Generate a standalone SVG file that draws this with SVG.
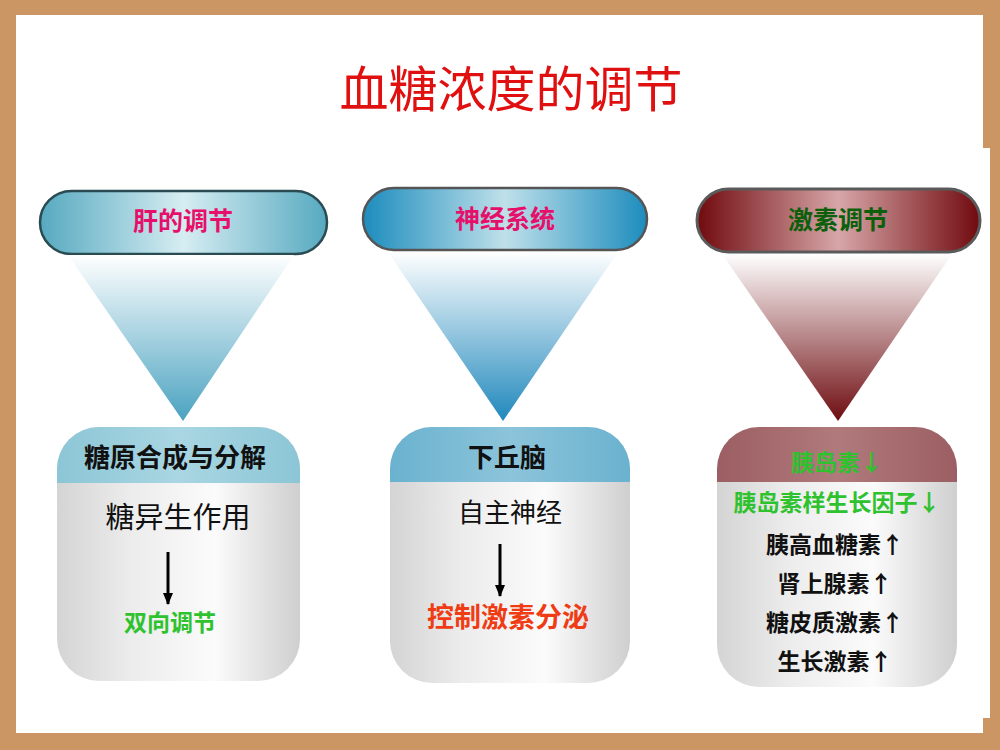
<svg xmlns="http://www.w3.org/2000/svg" width="1000" height="750" viewBox="0 0 1000 750">
<defs>
<style>
.cjk{font-family:"Noto Sans CJK SC","Noto Sans CJK TC",sans-serif;text-anchor:middle}
.pill{font-size:25px;font-weight:bold}
.hdr{font-size:26px;font-weight:bold;fill:#111}
.item{font-size:23px;font-weight:bold;fill:#111}
.green{fill:#2fc22f}
</style>
<linearGradient id="p1" x1="0" y1="0" x2="1" y2="0">
<stop offset="0" stop-color="#56a9c0"/><stop offset="0.5" stop-color="#d6edf2"/><stop offset="1" stop-color="#56a9c0"/>
</linearGradient>
<linearGradient id="p2" x1="0" y1="0" x2="1" y2="0">
<stop offset="0" stop-color="#1c8cbd"/><stop offset="0.5" stop-color="#bfe0ea"/><stop offset="1" stop-color="#1c8cbd"/>
</linearGradient>
<linearGradient id="p3" x1="0" y1="0" x2="1" y2="0">
<stop offset="0" stop-color="#700a0e"/><stop offset="0.5" stop-color="#d7a6a8"/><stop offset="1" stop-color="#700a0e"/>
</linearGradient>
<linearGradient id="tb" x1="0" y1="0" x2="0" y2="1">
<stop offset="0" stop-color="#ffffff"/><stop offset="1" stop-color="#4aa2c0"/>
</linearGradient>
<linearGradient id="tb2" x1="0" y1="0" x2="0" y2="1">
<stop offset="0" stop-color="#ffffff"/><stop offset="1" stop-color="#2088bc"/>
</linearGradient>
<linearGradient id="tr" x1="0" y1="0" x2="0" y2="1">
<stop offset="0" stop-color="#ffffff"/><stop offset="1" stop-color="#6e0c10"/>
</linearGradient>
<linearGradient id="body" x1="0" y1="0" x2="1" y2="0">
<stop offset="0" stop-color="#d4d4d4"/><stop offset="0.3" stop-color="#ececec"/><stop offset="0.65" stop-color="#fbfbfb"/><stop offset="1" stop-color="#cfcfcf"/>
</linearGradient>
<linearGradient id="h1" x1="0" y1="0" x2="1" y2="0">
<stop offset="0" stop-color="#8cc6d6"/><stop offset="0.5" stop-color="#a9d6e2"/><stop offset="1" stop-color="#8cc6d6"/>
</linearGradient>
<linearGradient id="h2" x1="0" y1="0" x2="1" y2="0">
<stop offset="0" stop-color="#6ab2cf"/><stop offset="0.5" stop-color="#8cc4da"/><stop offset="1" stop-color="#6ab2cf"/>
</linearGradient>
<linearGradient id="h3" x1="0" y1="0" x2="1" y2="0">
<stop offset="0" stop-color="#9c5e62"/><stop offset="0.5" stop-color="#b07a7c"/><stop offset="1" stop-color="#9c5e62"/>
</linearGradient>
<clipPath id="c1"><rect x="57" y="427" width="243" height="254" rx="42"/></clipPath>
<clipPath id="c2"><rect x="390" y="427" width="240" height="256" rx="42"/></clipPath>
<clipPath id="c3"><rect x="717" y="427" width="240" height="260" rx="42"/></clipPath>
<marker id="ah" viewBox="0 0 12 10" refX="11" refY="5" markerWidth="12" markerHeight="10" markerUnits="userSpaceOnUse" orient="auto">
<path d="M0,0 L12,5 L0,10 Z" fill="#000"/>
</marker>
</defs>

<rect x="0" y="0" width="1000" height="750" fill="#cc9664"/>
<rect x="16" y="15" width="967" height="718" fill="#ffffff"/>
<rect x="983" y="148" width="7" height="570" fill="#ffffff"/>

<text id="title" class="cjk" x="511" y="107" font-size="49" fill="#e01010">血糖浓度的调节</text>

<g id="pill-liver">
<rect x="40" y="191" width="287" height="63" rx="31.5" fill="url(#p1)" stroke="#2b4b52" stroke-width="2.5"/>
<text class="cjk pill" x="183" y="230" fill="#e6106a">肝的调节</text>
</g>
<g id="pill-nerve">
<rect x="363" y="188" width="284" height="62" rx="31" fill="url(#p2)" stroke="#555" stroke-width="2.5"/>
<text class="cjk pill" x="505" y="228" fill="#e6106a">神经系统</text>
</g>
<g id="pill-hormone">
<rect x="697" y="189" width="283" height="63" rx="31.5" fill="url(#p3)" stroke="#5a5a5a" stroke-width="3"/>
<text class="cjk pill" x="838" y="229" fill="#0c600c">激素调节</text>
</g>

<g id="box-liver">
<g clip-path="url(#c1)">
<rect x="57" y="427" width="243" height="254" fill="url(#body)"/>
<rect x="57" y="427" width="243" height="56" fill="url(#h1)"/>
</g>
<text class="cjk hdr" x="175" y="467">糖原合成与分解</text>
<text class="cjk" x="178" y="528" font-size="29" fill="#111">糖异生作用</text>
<text class="cjk green" x="170" y="631" font-size="23" font-weight="bold">双向调节</text>
</g>

<g id="box-nerve">
<g clip-path="url(#c2)">
<rect x="390" y="427" width="240" height="256" fill="url(#body)"/>
<rect x="390" y="427" width="240" height="55" fill="url(#h2)"/>
</g>
<text class="cjk hdr" x="507" y="467">下丘脑</text>
<text class="cjk" x="510" y="522" font-size="26" fill="#111">自主神经</text>
<text class="cjk" x="508" y="627" font-size="27" font-weight="bold" fill="#f03c14">控制激素分泌</text>
</g>

<g id="box-hormone">
<g clip-path="url(#c3)">
<rect x="717" y="427" width="240" height="260" fill="url(#body)"/>
<rect x="717" y="427" width="240" height="55" fill="url(#h3)"/>
</g>
<text class="cjk item green" x="837" y="471">胰岛素↓</text>
<text class="cjk item green" x="837" y="511">胰岛素样生长因子↓</text>
<text class="cjk item" x="835" y="553">胰高血糖素↑</text>
<text class="cjk item" x="835" y="592">肾上腺素↑</text>
<text class="cjk item" x="835" y="631">糖皮质激素↑</text>
<text class="cjk item" x="835" y="670">生长激素↑</text>
</g>

<g id="connectors">
<polygon points="68,255 294,255 183,421" fill="url(#tb)"/>
<polygon points="388,252 618,252 503,421" fill="url(#tb2)"/>
<polygon points="722,254 952,254 838,421" fill="url(#tr)"/>
<line x1="168" y1="552" x2="168" y2="604" stroke="#000" stroke-width="3" marker-end="url(#ah)"/>
<line x1="500" y1="544" x2="500" y2="596" stroke="#000" stroke-width="3" marker-end="url(#ah)"/>
</g>
</svg>
